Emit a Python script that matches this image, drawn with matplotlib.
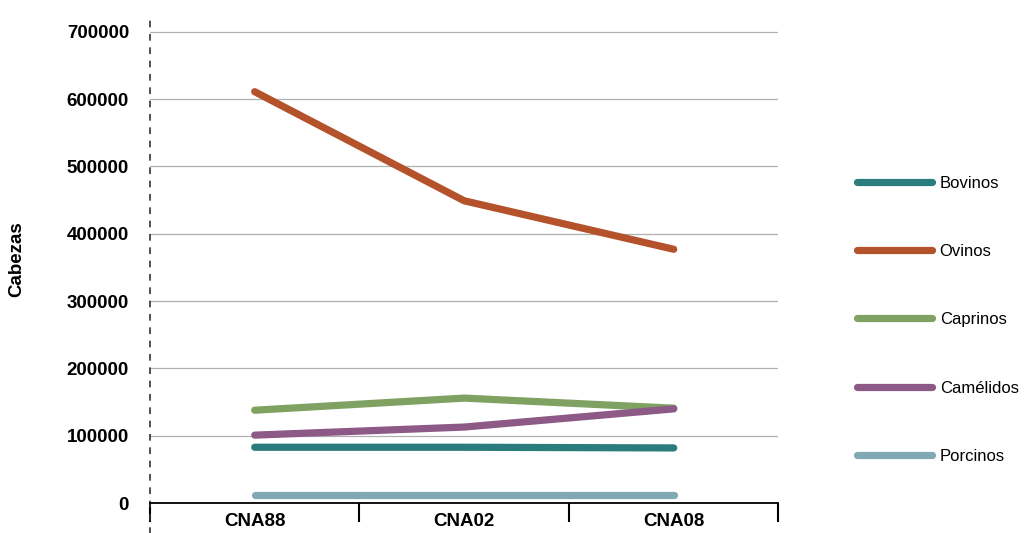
import matplotlib.pyplot as plt
import numpy as np

plt.rcParams['font.family'] = ['Liberation Sans', 'DejaVu Sans']

# datos (cabezas de ganado por censo)
censos = ['CNA88', 'CNA02', 'CNA08']
bovinos = [83000, 83000, 82000]
ovinos = [611000, 449000, 377000]
caprinos = [138000, 156000, 141000]
camelidos = [101000, 113000, 140000]
porcinos = [12000, 12000, 12000]

series = [
    ('Bovinos', bovinos, '#2b7c7c'),
    ('Ovinos', ovinos, '#b4522b'),
    ('Caprinos', caprinos, '#7fa262'),
    ('Camélidos', camelidos, '#8d5a88'),
    ('Porcinos', porcinos, '#80a9b3'),
]

fig = plt.figure(figsize=(10.27, 5.33), dpi=100)
ax = fig.add_axes([0.146, 0.056, 0.612, 0.916])

x = np.arange(len(censos))
for nombre, vals, color in series:
    ax.plot(x, vals, color=color, lw=5.2, solid_capstyle='round', label=nombre)

ax.set_xlim(-0.5, 2.5)
ax.set_ylim(0, 725000)
ax.set_yticks(np.arange(0, 700001, 100000))
ax.set_yticklabels([str(v) for v in range(0, 700001, 100000)],
                   fontsize=13.5, fontweight='bold')
ax.grid(axis='y', color='#b0b0b0', lw=0.9)
ax.set_axisbelow(True)

# marcas en los limites de categoria, etiquetas en el centro
ax.set_xticks([-0.5, 0.5, 1.5, 2.5])
ax.set_xticklabels([])
ax.tick_params(axis='x', which='major', length=14, width=1.5, direction='out')
ax.set_xticks(x, minor=True)
ax.set_xticklabels(censos, minor=True, fontsize=13.5, fontweight='bold')
ax.tick_params(axis='x', which='minor', length=0, pad=7)
ax.tick_params(axis='y', length=0, pad=15)

for s in ['top', 'right', 'left']:
    ax.spines[s].set_visible(False)
ax.spines['bottom'].set_linewidth(1.3)
ax.plot([0, 0], [-0.1, 1.0], transform=ax.transAxes, color='#333333',
        lw=1.2, ls=(0, (4, 4)), clip_on=False)

ax.set_ylabel('Cabezas', fontsize=13.5, fontweight='bold', labelpad=30)

fig.legend(loc='center left', bbox_to_anchor=(0.820, 0.40), frameon=False,
           fontsize=12, handlelength=4.5, labelspacing=3.2, handletextpad=0.45)

fig.savefig('out.png', dpi=100)
